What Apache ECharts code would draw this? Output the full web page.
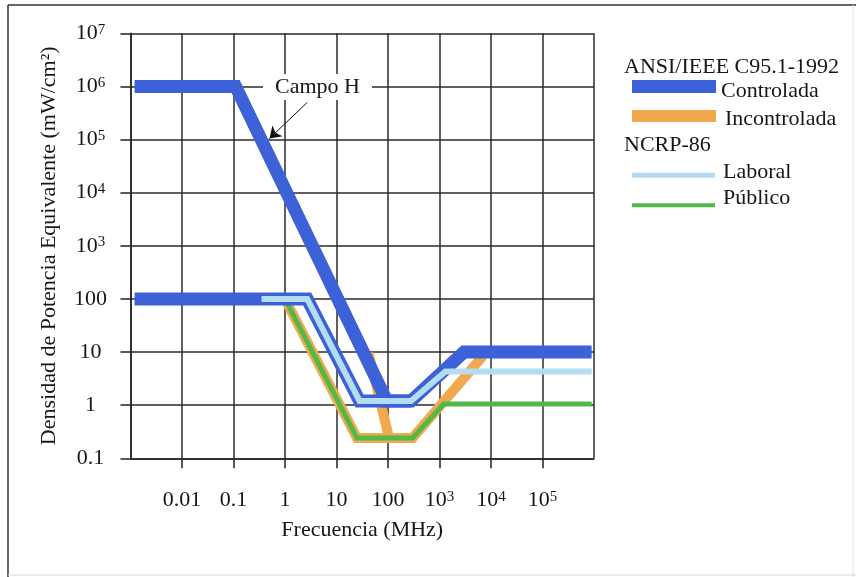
<!DOCTYPE html>
<html>
<head>
<meta charset="utf-8">
<script src="https://cdn.jsdelivr.net/npm/echarts@6/dist/echarts.min.js"></script>
<style>
html,body{margin:0;padding:0;background:#fff;}
#chart{width:856px;height:577px;}
</style>
</head>
<body>
<div id="chart"></div>
<script>
// ---- data (frequency in MHz, power density in mW/cm^2) ----
const xTickValues = [0.01, 0.1, 1, 10, 100, 1000, 10000, 100000];
const xTickLabels = ['0.01', '0.1', '1', '10', '100', '10^3', '10^4', '10^5'];
const yTickValues = [0.1, 1, 10, 100, 1000, 10000, 100000, 1000000, 10000000];
const yTickLabels = ['0.1', '1', '10', '100', '10^3', '10^4', '10^5', '10^6', '10^7'];

// ANSI/IEEE C95.1-1992 - Controlada (E-field and H-field branches)
const controladaE = [[0.0012, 100], [2.7, 100], [28, 1.2], [280, 1.2], [3000, 10], [900000, 10]];
const controladaH = [[0.0012, 1000000], [0.11, 1000000], [95, 1.2], [280, 1.2]];
// ANSI/IEEE C95.1-1992 - Incontrolada
const incontroladaE = [[1.0, 100], [25, 0.24], [300, 0.24], [7000, 8.5]];
const incontroladaH = [[42, 9.5], [105, 0.24]];
// NCRP-86
const laboral = [[0.35, 100], [2.7, 100], [28, 1.2], [280, 1.2], [1300, 4.3], [900000, 4.3]];
const publico = [[1.0, 100], [25, 0.24], [300, 0.24], [1200, 1.05], [900000, 1.05]];

// annotation arrow "Campo H" (start, tip)
const campoHArrow = [[2.7, 500000], [0.5, 105000]];

const FONT = '"Liberation Serif", "Times New Roman", serif';
const TXT = '#161616';
const C_BLUE = '#3d62d8';
const C_ORANGE = '#f0a94c';
const C_LBLUE = '#b4dcf2';
const C_GREEN = '#52b848';

function richLabel(s) {
  if (s.indexOf('^') >= 0) {
    const p = s.split('^');
    return '{b|' + p[0] + '}{s|' + p[1] + '}';
  }
  return '{b|' + s + '}';
}
function makeFormatter(vals, labels) {
  return function (v) {
    const k = Math.round(Math.log10(v));
    const i = vals.findIndex(t => Math.round(Math.log10(t)) === k);
    return i < 0 ? '' : richLabel(labels[i]);
  };
}
const rich = {
  b: { fontSize: 22, fontFamily: FONT, color: TXT },
  s: { fontSize: 15, fontFamily: FONT, color: TXT, verticalAlign: 'top' }
};

function lineSeries(name, data, color, width, z) {
  return {
    name: name, type: 'line', data: data, showSymbol: false, symbol: 'none',
    z: z, color: color, itemStyle: { color: color },
    lineStyle: { color: color, width: width, join: 'miter', cap: 'butt' },
    silent: true, animation: false
  };
}

const chart = echarts.init(document.getElementById('chart'), null, { renderer: 'canvas' });

const hSeries = lineSeries('Controlada', controladaH, C_BLUE, 13, 4);
hSeries.markLine = {
  silent: true, animation: false,
  symbol: ['none', 'arrow'], symbolSize: 11,
  lineStyle: { color: '#111', width: 1, type: 'solid' },
  label: { show: false },
  data: [[{ coord: campoHArrow[0] }, { coord: campoHArrow[1] }]]
};

function legendItem(name, top, h, w, pad) {
  return {
    data: [name], left: 632, top: top, padding: 0, icon: 'rect',
    itemWidth: w, itemHeight: h, selectedMode: false,
    formatter: function (n) { return '{t|' + n + '}'; },
    textStyle: {
      fontSize: 22, fontFamily: FONT, color: TXT,
      rich: { t: { fontSize: 22, fontFamily: FONT, color: TXT, padding: pad } }
    }
  };
}

chart.setOption({
  backgroundColor: '#ffffff',
  animation: false,
  grid: { left: 130.5, top: 33.3, right: 262, bottom: 118.7 },
  xAxis: {
    type: 'log', logBase: 10, min: 0.001, max: 1000000,
    name: 'Frecuencia (MHz)', nameLocation: 'middle', nameGap: 61,
    nameTextStyle: { fontSize: 22, fontFamily: FONT, color: TXT },
    axisLine: { show: true, lineStyle: { color: '#222', width: 1.5 } },
    axisTick: { show: true, length: 10, inside: false, lineStyle: { color: '#222', width: 1.5 } },
    axisLabel: { margin: 31, formatter: makeFormatter(xTickValues, xTickLabels), rich: rich, showMinLabel: false, showMaxLabel: false },
    splitLine: { show: true, lineStyle: { color: '#2b2b2b', width: 1.5 } },
    minorTick: { show: false }, minorSplitLine: { show: false }
  },
  yAxis: {
    type: 'log', logBase: 10, min: 0.1, max: 10000000,
    name: 'Densidad de Potencia Equivalente (mW/cm²)', nameLocation: 'middle', nameGap: 70,
    nameTextStyle: { fontSize: 22, fontFamily: FONT, color: TXT },
    axisLine: { show: true, lineStyle: { color: '#222', width: 1.5 } },
    axisTick: { show: true, length: 10, inside: false, lineStyle: { color: '#222', width: 1.5 } },
    axisLabel: { margin: 40, align: 'center', formatter: makeFormatter(yTickValues, yTickLabels), rich: rich },
    splitLine: { show: true, lineStyle: { color: '#2b2b2b', width: 1.5 } },
    minorTick: { show: false }, minorSplitLine: { show: false }
  },
  legend: [
    legendItem('Controlada', 80, 13, 84, [9, 0, 0, 0]),
    legendItem('Incontrolada', 108, 12, 84, [6, 0, 0, 4]),
    legendItem('Laboral', 161, 5, 83, [0, 0, 6.6, 3]),
    legendItem('Público', 187, 4, 83, [0, 0, 14.6, 3])
  ],
  graphic: [
    { type: 'line', shape: { x1: 8, y1: 5, x2: 856, y2: 5 }, style: { stroke: '#333', lineWidth: 1.5 }, silent: true },
    { type: 'line', shape: { x1: 8, y1: 5, x2: 8, y2: 577 }, style: { stroke: '#333', lineWidth: 1.5 }, silent: true },
    { type: 'line', shape: { x1: 853, y1: 5, x2: 853, y2: 577 }, style: { stroke: '#e4e4e4', lineWidth: 1 }, silent: true },
    { type: 'line', shape: { x1: 8, y1: 575, x2: 856, y2: 575 }, style: { stroke: '#d8d8d8', lineWidth: 1 }, silent: true },
    { type: 'text', x: 624, y: 67, z: 10, style: { text: 'ANSI/IEEE C95.1-1992', font: '22px ' + FONT, fill: TXT, verticalAlign: 'middle' }, silent: true },
    { type: 'text', x: 624, y: 145, z: 10, style: { text: 'NCRP-86', font: '22px ' + FONT, fill: TXT, verticalAlign: 'middle' }, silent: true },
    { type: 'text', x: 263, y: 87, z: 10, style: { text: 'Campo H', font: '22px ' + FONT, fill: TXT, verticalAlign: 'middle', backgroundColor: '#ffffff', padding: [2, 12, 2, 12] }, silent: true }
  ],
  series: [
    lineSeries('Incontrolada', incontroladaE, C_ORANGE, 10, 2),
    lineSeries('Incontrolada', incontroladaH, C_ORANGE, 10, 2),
    lineSeries('Público', publico, C_GREEN, 5, 3),
    lineSeries('Controlada', controladaE, C_BLUE, 13, 4),
    hSeries,
    lineSeries('Laboral', laboral, C_LBLUE, 6, 5)
  ]
});
</script>
</body>
</html>
